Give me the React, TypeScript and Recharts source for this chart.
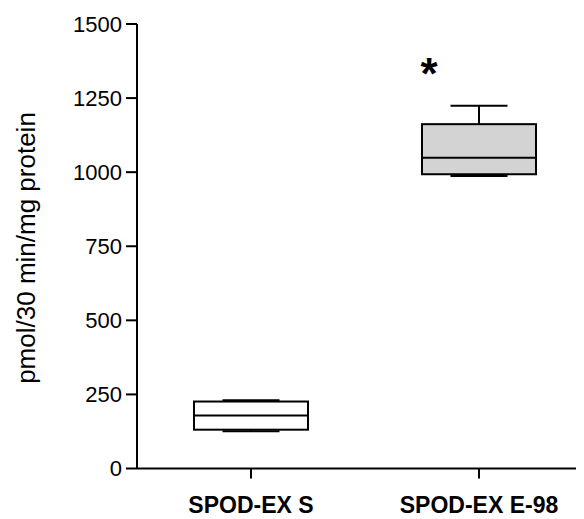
import React from 'react';
import { ComposedChart, Bar, XAxis, YAxis } from 'recharts';

const categories = ['SPOD-EX S', 'SPOD-EX E-98'];
const mins = [126, 987];
const q1s = [131, 993];
const medians = [179, 1049];
const q3s = [226, 1162];
const maxs = [230, 1224];
const fills = ['#ffffff', '#d3d3d3'];
const marks = ['', '*'];
const markValues = [0, 1356];
const yTicks = [0, 250, 500, 750, 1000, 1250, 1500];

const data = categories.map((name, i) => ({
  name,
  range: [mins[i], maxs[i]],
  min: mins[i],
  q1: q1s[i],
  median: medians[i],
  q3: q3s[i],
  max: maxs[i],
  fill: fills[i],
  mark: marks[i],
  markValue: markValues[i],
}));

const FONT = '"Liberation Sans", Arial, sans-serif';

const BoxShape = (props: any) => {
  const { x, y, width, height, payload } = props;
  const { min, max, q1, q3, median, fill, mark, markValue } = payload;
  const pix = (v: number) => y + (height * (max - v)) / (max - min);
  const cx = x + width / 2;
  const cap = width * 0.25;
  const sw = 2;
  return (
    <g>
      <line x1={cx} x2={cx} y1={pix(max)} y2={pix(q3)} stroke="#000" strokeWidth={sw} />
      <line x1={cx} x2={cx} y1={pix(q1)} y2={pix(min)} stroke="#000" strokeWidth={sw} />
      <line x1={cx - cap} x2={cx + cap} y1={pix(max)} y2={pix(max)} stroke="#000" strokeWidth={sw} />
      <line x1={cx - cap} x2={cx + cap} y1={pix(min)} y2={pix(min)} stroke="#000" strokeWidth={sw} />
      <rect x={x} y={pix(q3)} width={width} height={pix(q1) - pix(q3)} fill={fill} stroke="#000" strokeWidth={sw} />
      <line x1={x} x2={x + width} y1={pix(median)} y2={pix(median)} stroke="#000" strokeWidth={sw} />
      {mark ? (
        <text x={x + 7} y={pix(markValue)} dy={22} textAnchor="middle" fontFamily={FONT} fontWeight="bold" fontSize={44} fill="#000">
          {mark}
        </text>
      ) : null}
    </g>
  );
};

const YTick = (props: any) => {
  const { x, y, payload } = props;
  return (
    <text x={x} y={y} textAnchor="end" dominantBaseline="central" fontFamily={FONT} fontSize={22} fill="#000">
      {payload.value}
    </text>
  );
};

const XTick = (props: any) => {
  const { x, y, payload } = props;
  return (
    <text x={x} y={y + 26.5} textAnchor="middle" fontFamily={FONT} fontSize={23} fontWeight="bold" fill="#000">
      {payload.value}
    </text>
  );
};

const YLabel = () => (
  <text
    x={18}
    y={240}
    transform="rotate(-90, 18, 240)"
    textAnchor="middle"
    dominantBaseline="central"
    fontFamily={FONT}
    fontSize={26}
    fill="#000"
  >
    pmol/30 min/mg protein
  </text>
);

export default function App() {
  return (
    <div style={{ width: 576, height: 511, overflow: 'hidden' }}>
      <ComposedChart
        width={600}
        height={511}
        data={data}
        margin={{ top: 16, right: 15, bottom: 0, left: 0 }}
        barCategoryGap="25%"
      >
        <XAxis
          dataKey="name"
          type="category"
          height={50.5}
          tickSize={10}
          tickMargin={8}
          axisLine={{ stroke: '#000', strokeWidth: 2 }}
          tickLine={{ stroke: '#000', strokeWidth: 2 }}
          tick={<XTick />}
        />
        <YAxis
          type="number"
          domain={[0, 1500]}
          ticks={yTicks}
          width={129}
          tickSize={11}
          tickMargin={4}
          interval={0}
          axisLine={{ stroke: '#000', strokeWidth: 2 }}
          tickLine={{ stroke: '#000', strokeWidth: 2 }}
          tick={<YTick />}
        />
        <Bar dataKey="range" shape={<BoxShape />} isAnimationActive={false} />
        <YLabel />
      </ComposedChart>
    </div>
  );
}
